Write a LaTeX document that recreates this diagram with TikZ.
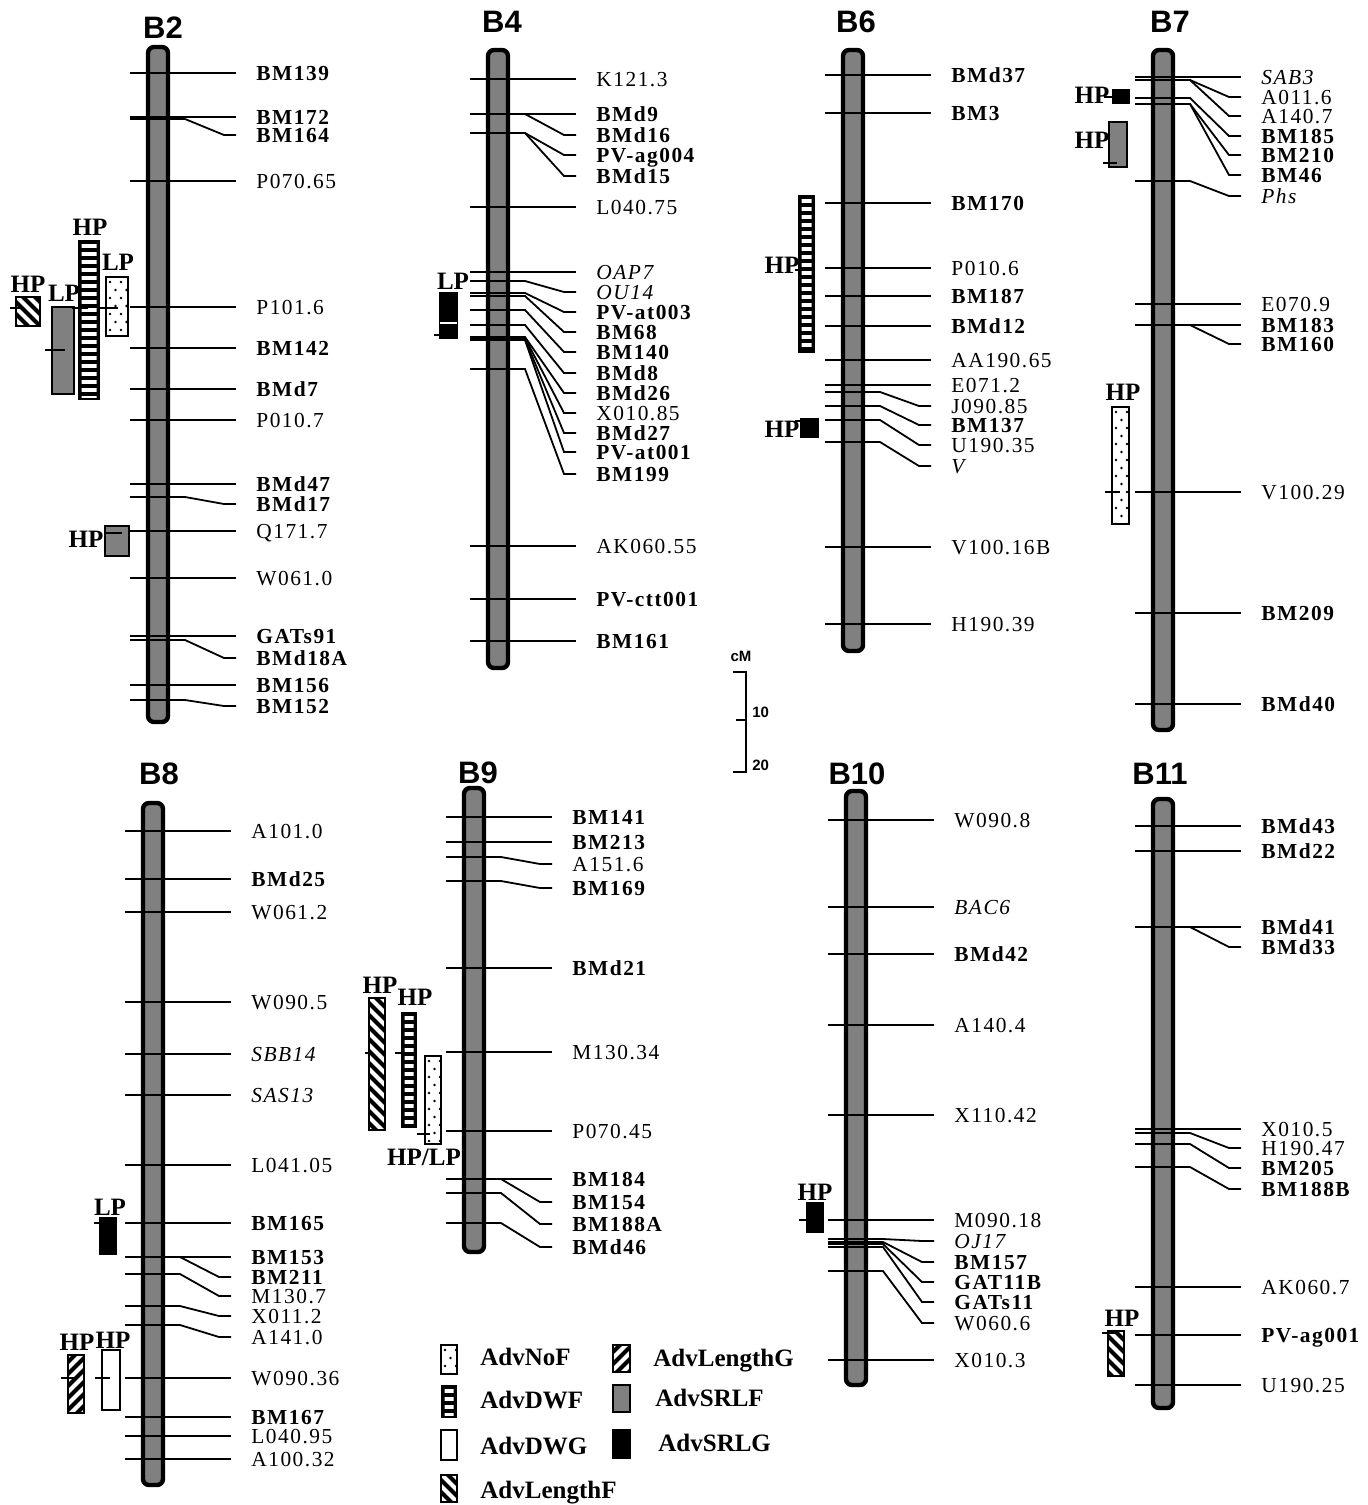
\documentclass[tikz,border=0pt]{standalone}
\usepackage{fontspec}
\setmainfont{Liberation Serif}
\newfontfamily\lblfont[LetterSpace=7]{Liberation Serif}
\newfontfamily\ttlfont{Liberation Sans}
\usepackage{tikz}
\newcount\mkn
\tikzset{
  chrom/.style={draw=black,fill=gray,line width=2.2pt,rounded corners=3pt},
  mline/.style={line width=0.9pt,shorten >=10pt},
  lbl/.style={anchor=west,inner sep=0pt,text height=7pt,text depth=0pt},
  nrm/.style={font=\lblfont\fontsize{10.7}{12}\selectfont},
  bld/.style={font=\lblfont\bfseries\fontsize{10.7}{12}\selectfont},
  itl/.style={font=\lblfont\itshape\fontsize{10.7}{12}\selectfont},
  ttl/.style={font=\ttlfont\bfseries\fontsize{15.5}{18}\selectfont,inner sep=0pt,text height=11.1pt,text depth=0pt},
  qlbl/.style={font=\bfseries\fontsize{12.5}{14}\selectfont,inner sep=0pt,text height=8.3pt,text depth=0pt},
  leg/.style={qlbl,anchor=west},
  qframe/.style={draw=black,line width=0.8pt},
  peak/.style={line width=1.3pt},
  scl/.style={font=\ttlfont\bfseries\fontsize{7.5}{9}\selectfont,inner sep=0pt}
}
% chromosome bar: centre x, top, bottom
\newcommand\chrbar[3]{%
  \def\cx{#1}%
  \draw[chrom] ({#1-10},#2) rectangle ({#1+10},#3);}
% marker: tick y, label y, style, text
\newcommand\mk[4]{%
  \global\advance\mkn by 1
  \node[lbl,#3] (mk\the\mkn) at ({\cx+98},#2) {#4};
  \draw[mline] ({\cx-28},#1) -- ({\cx+27},#1) -- ({\cx+66},#2) -- (mk\the\mkn.west);}
% QTL boxes
\newcommand\qnof[4]{%
  \fill[white] (#1,#2) rectangle (#3,#4);
  \begin{scope}
    \clip (#1,#2) rectangle (#3,#4);
    \foreach \k in {0,...,20}
      \foreach \j in {0,1,2}
        \fill ({#1+4+\j*11+mod(\k,2)*5.5},{#2+5+\k*8}) circle (0.65pt);
  \end{scope}
  \draw[qframe] (#1,#2) rectangle (#3,#4);}
\newcommand\qdwf[4]{%
  \fill (#1,#2) rectangle (#3,#4);
  \begin{scope}
    \clip ({#1+3.5},{#2+3}) rectangle ({#3-3.5},{#4-3});
    \foreach \k in {0,...,25}
      \fill[white] (#1,{#2+4+\k*8}) rectangle (#3,{#2+8+\k*8});
  \end{scope}}
\newcommand\qhf[4]{%
  \fill[white] (#1,#2) rectangle (#3,#4);
  \begin{scope}
    \clip (#1,#2) rectangle (#3,#4);
    \foreach \k in {-6,...,16}
      \draw[line width=2pt] ({#1-5},{#2+\k*12}) -- ({#1+55},{#2+\k*12+60});
  \end{scope}
  \draw[qframe] (#1,#2) rectangle (#3,#4);}
\newcommand\qhg[4]{%
  \fill[white] (#1,#2) rectangle (#3,#4);
  \begin{scope}
    \clip (#1,#2) rectangle (#3,#4);
    \foreach \k in {0,...,22}
      \draw[line width=2pt] ({#1-5},{#2+\k*12}) -- ({#1+55},{#2+\k*12-60});
  \end{scope}
  \draw[qframe] (#1,#2) rectangle (#3,#4);}
\newcommand\qsf[4]{\draw[qframe,fill=gray] (#1,#2) rectangle (#3,#4);}
\newcommand\qsg[4]{\draw[qframe,fill=black] (#1,#2) rectangle (#3,#4);}
\newcommand\qdg[4]{\draw[qframe,fill=white] (#1,#2) rectangle (#3,#4);}

\begin{document}
\begin{tikzpicture}[x=0.5pt,y=-0.5pt]
  \useasboundingbox (0,0) rectangle (1368,1505);

  % B2
  \node[ttl] (B2) at (163,27) {B2};
  \chrbar{158}{47}{722}
  \mk{73}{73}{bld}{BM139}
  \mk{117}{117}{bld}{BM172}
  \mk{119}{135}{bld}{BM164}
  \mk{181}{181}{nrm}{P070.65}
  \mk{307}{307}{nrm}{P101.6}
  \mk{348}{348}{bld}{BM142}
  \mk{389}{389}{bld}{BMd7}
  \mk{420}{420}{nrm}{P010.7}
  \mk{484}{484}{bld}{BMd47}
  \mk{497}{504}{bld}{BMd17}
  \mk{531}{531}{nrm}{Q171.7}
  \mk{578}{578}{nrm}{W061.0}
  \mk{636}{636}{bld}{GATs91}
  \mk{640}{658}{bld}{BMd18A}
  \mk{685}{685}{bld}{BM156}
  \mk{700}{706}{bld}{BM152}
  \qhf{16}{297}{40}{326}
  \node[qlbl] (b2hpa) at (28,284) {HP};
  \draw[peak] (10,308) -- (24,308);
  \qsf{52}{307}{74}{394}
  \node[qlbl] (b2lpa) at (64,293) {LP};
  \draw[peak] (45,350) -- (65,350);
  \qdwf{78}{240}{100}{400}
  \node[qlbl] (b2hpb) at (90,227) {HP};
  \draw[peak] (72,308) -- (88,308);
  \qnof{106}{277}{128}{336}
  \node[qlbl] (b2lpb) at (118,262) {LP};
  \draw[peak] (100,308) -- (118,308);
  \qsf{105}{526}{129}{556}
  \node[qlbl] (b2hpc) at (86,539) {HP};
  \draw[peak] (106,533) -- (122,533);

  % B4
  \node[ttl] (B4) at (502,21) {B4};
  \chrbar{498}{50}{668}
  \mk{79}{79}{nrm}{K121.3}
  \mk{114}{114}{bld}{BMd9}
  \mk{114}{135}{bld}{BMd16}
  \mk{133}{155}{bld}{PV-ag004}
  \mk{133}{176}{bld}{BMd15}
  \mk{207}{207}{nrm}{L040.75}
  \mk{272}{272}{itl}{OAP7}
  \mk{281}{292}{itl}{OU14}
  \mk{293}{312}{bld}{PV-at003}
  \mk{296}{332}{bld}{BM68}
  \mk{310}{352}{bld}{BM140}
  \mk{325}{373}{bld}{BMd8}
  \mk{337}{393}{bld}{BMd26}
  \mk{338}{413}{nrm}{X010.85}
  \mk{339}{433}{bld}{BMd27}
  \mk{340}{452}{bld}{PV-at001}
  \mk{369}{474}{bld}{BM199}
  \mk{546}{546}{nrm}{AK060.55}
  \mk{599}{599}{bld}{PV-ctt001}
  \mk{641}{641}{bld}{BM161}
  \qsg{440}{293}{457}{338}
  \draw[white,line width=0.8pt] (440,323) -- (457,323);
  \node[qlbl] (b4lp) at (453,281) {LP};
  \draw[peak] (434,335) -- (447,335);

  % B6
  \node[ttl] (B6) at (856,21) {B6};
  \chrbar{853}{50}{651}
  \mk{75}{75}{bld}{BMd37}
  \mk{113}{113}{bld}{BM3}
  \mk{203}{203}{bld}{BM170}
  \mk{268}{268}{nrm}{P010.6}
  \mk{296}{296}{bld}{BM187}
  \mk{326}{326}{bld}{BMd12}
  \mk{360}{360}{nrm}{AA190.65}
  \mk{385}{385}{nrm}{E071.2}
  \mk{392}{406}{nrm}{J090.85}
  \mk{406}{425}{bld}{BM137}
  \mk{420}{445}{nrm}{U190.35}
  \mk{442}{466}{itl}{V}
  \mk{547}{547}{nrm}{V100.16B}
  \mk{624}{624}{nrm}{H190.39}
  \qdwf{798}{195}{815}{353}
  \node[qlbl] (b6hpa) at (782,265) {HP};
  \draw[peak] (795,270) -- (808,270);
  \qsg{801}{419}{818}{437}
  \node[qlbl] (b6hpb) at (782,429) {HP};
  \draw[peak] (795,421) -- (806,421);

  % B7
  \node[ttl] (B7) at (1170,21) {B7};
  \chrbar{1163}{50}{730}
  \mk{77}{77}{itl}{SAB3}
  \mk{80}{97}{nrm}{A011.6}
  \mk{80}{116}{nrm}{A140.7}
  \mk{98}{136}{bld}{BM185}
  \mk{104}{155}{bld}{BM210}
  \mk{104}{175}{bld}{BM46}
  \mk{181}{196}{itl}{Phs}
  \mk{304}{304}{nrm}{E070.9}
  \mk{325}{325}{bld}{BM183}
  \mk{325}{344}{bld}{BM160}
  \mk{492}{492}{nrm}{V100.29}
  \mk{613}{613}{bld}{BM209}
  \mk{704}{704}{bld}{BMd40}
  \qsg{1113}{90}{1129}{103}
  \node[qlbl] (b7hpa) at (1092,95) {HP};
  \draw[peak] (1104,97) -- (1115,97);
  \qsf{1109}{122}{1127}{167}
  \node[qlbl] (b7hpb) at (1092,140) {HP};
  \draw[peak] (1103,163) -- (1117,163);
  \qnof{1112}{407}{1129}{524}
  \node[qlbl] (b7hpc) at (1123,392) {HP};
  \draw[peak] (1105,492) -- (1120,492);

  % B8
  \node[ttl] (B8) at (159,773) {B8};
  \chrbar{153}{803}{1485}
  \mk{831}{831}{nrm}{A101.0}
  \mk{879}{879}{bld}{BMd25}
  \mk{912}{912}{nrm}{W061.2}
  \mk{1002}{1002}{nrm}{W090.5}
  \mk{1054}{1054}{itl}{SBB14}
  \mk{1095}{1095}{itl}{SAS13}
  \mk{1165}{1165}{nrm}{L041.05}
  \mk{1223}{1223}{bld}{BM165}
  \mk{1257}{1257}{bld}{BM153}
  \mk{1257}{1277}{bld}{BM211}
  \mk{1274}{1296}{nrm}{M130.7}
  \mk{1306}{1316}{nrm}{X011.2}
  \mk{1325}{1337}{nrm}{A141.0}
  \mk{1378}{1378}{nrm}{W090.36}
  \mk{1417}{1417}{bld}{BM167}
  \mk{1436}{1436}{nrm}{L040.95}
  \mk{1459}{1459}{nrm}{A100.32}
  \qsg{100}{1218}{116}{1254}
  \node[qlbl] (b8lp) at (110,1207) {LP};
  \draw[peak] (94,1223) -- (104,1223);
  \qhg{68}{1355}{84}{1413}
  \node[qlbl] (b8hpa) at (77,1342) {HP};
  \draw[peak] (61,1378) -- (75,1378);
  \qdg{102}{1350}{120}{1410}
  \node[qlbl] (b8hpb) at (113,1340) {HP};
  \draw[peak] (95,1378) -- (110,1378);

  % B9
  \node[ttl] (B9) at (478,772) {B9};
  \chrbar{474}{788}{1252}
  \mk{817}{817}{bld}{BM141}
  \mk{842}{842}{bld}{BM213}
  \mk{857}{864}{nrm}{A151.6}
  \mk{881}{888}{bld}{BM169}
  \mk{968}{968}{bld}{BMd21}
  \mk{1052}{1052}{nrm}{M130.34}
  \mk{1131}{1131}{nrm}{P070.45}
  \mk{1179}{1179}{bld}{BM184}
  \mk{1179}{1202}{bld}{BM154}
  \mk{1193}{1224}{bld}{BM188A}
  \mk{1223}{1247}{bld}{BMd46}
  \qhf{369}{998}{385}{1130}
  \node[qlbl] (b9hpa) at (380,985) {HP};
  \draw[peak] (365,1053) -- (372,1053);
  \qdwf{401}{1012}{417}{1128}
  \node[qlbl] (b9hpb) at (415,997) {HP};
  \draw[peak] (395,1053) -- (407,1053);
  \qnof{425}{1056}{441}{1144}
  \node[qlbl] (b9hplp) at (424,1157) {HP/LP};
  \draw[peak] (417,1134) -- (430,1134);

  % B10
  \node[ttl] (B10) at (857,773) {B10};
  \chrbar{856}{791}{1385}
  \mk{820}{820}{nrm}{W090.8}
  \mk{907}{907}{itl}{BAC6}
  \mk{954}{954}{bld}{BMd42}
  \mk{1025}{1025}{nrm}{A140.4}
  \mk{1115}{1115}{nrm}{X110.42}
  \mk{1220}{1220}{nrm}{M090.18}
  \mk{1239}{1241}{itl}{OJ17}
  \mk{1242}{1262}{bld}{BM157}
  \mk{1244}{1282}{bld}{GAT11B}
  \mk{1247}{1302}{bld}{GATs11}
  \mk{1271}{1323}{nrm}{W060.6}
  \mk{1360}{1360}{nrm}{X010.3}
  \qsg{807}{1203}{823}{1232}
  \node[qlbl] (b10hp) at (815,1192) {HP};
  \draw[peak] (799,1220) -- (810,1220);

  % B11
  \node[ttl] (B11) at (1160,773) {B11};
  \chrbar{1163}{799}{1408}
  \mk{826}{826}{bld}{BMd43}
  \mk{851}{851}{bld}{BMd22}
  \mk{927}{927}{bld}{BMd41}
  \mk{927}{947}{bld}{BMd33}
  \mk{1129}{1129}{nrm}{X010.5}
  \mk{1133}{1148}{nrm}{H190.47}
  \mk{1144}{1168}{bld}{BM205}
  \mk{1167}{1189}{bld}{BM188B}
  \mk{1287}{1287}{nrm}{AK060.7}
  \mk{1335}{1335}{bld}{PV-ag001}
  \mk{1385}{1385}{nrm}{U190.25}
  \qhf{1108}{1331}{1124}{1376}
  \node[qlbl] (b11hp) at (1122,1318) {HP};
  \draw[peak] (1102,1333) -- (1115,1333);

  % scale
  \node[scl] (cm) at (741,656) {cM};
  \draw[line width=1pt] (733,672) -- (746,672) -- (746,772) -- (733,772);
  \draw[line width=1pt] (736,720) -- (746,720);
  \node[scl,anchor=west] (s10) at (752,712) {10};
  \node[scl,anchor=west] (s20) at (752,765) {20};

  % legend
  \qnof{441}{1345}{457}{1374}
  \node[leg] (lnof) at (480,1357) {AdvNoF};
  \qdwf{441}{1385}{457}{1418}
  \node[leg] (ldwf) at (480,1400) {AdvDWF};
  \qdg{441}{1430}{457}{1460}
  \node[leg] (ldwg) at (480,1446) {AdvDWG};
  \qhf{441}{1475}{457}{1502}
  \node[leg] (llf) at (480,1490) {AdvLengthF};
  \qhg{613}{1345}{630}{1372}
  \node[leg] (llg) at (653,1358) {AdvLengthG};
  \qsf{613}{1385}{630}{1412}
  \node[leg] (lsf) at (655,1398) {AdvSRLF};
  \qsg{613}{1430}{630}{1458}
  \node[leg] (lsg) at (658,1443) {AdvSRLG};
\end{tikzpicture}
\end{document}
